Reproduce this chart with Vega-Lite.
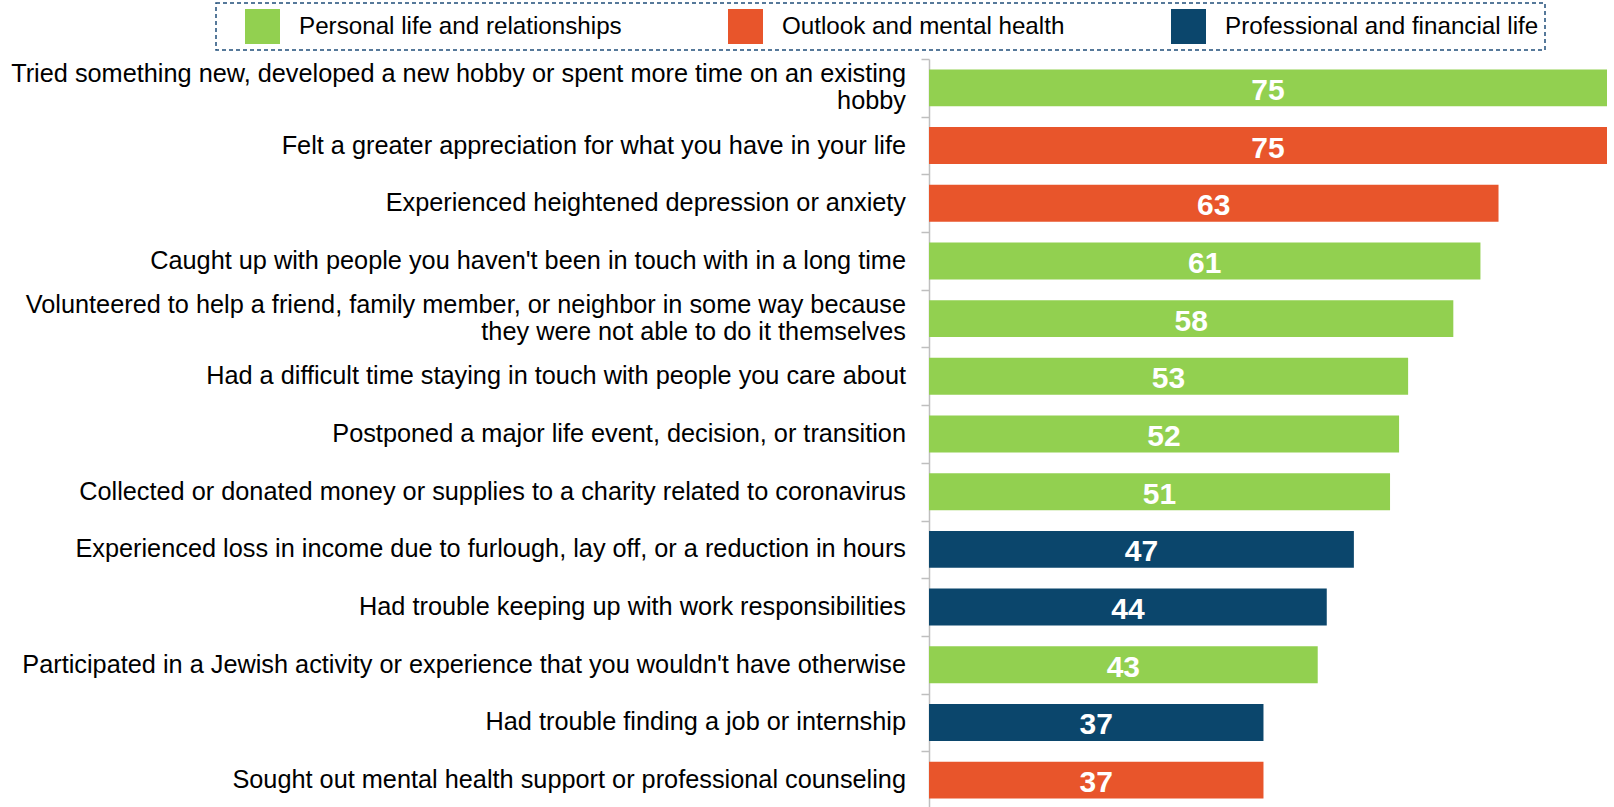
{
  "$schema": "https://vega.github.io/schema/vega-lite/v6.json",
  "width": 678,
  "height": 750,
  "autosize": {"type": "none"},
  "padding": {"left": 929, "top": 59, "right": 0, "bottom": 0},
  "background": "white",
  "config": {
    "view": {"stroke": null},
    "font": "Liberation Sans",
    "legend": {"strokeColor": "#1F4E79", "strokeDash": [4, 3], "strokeWidth": 1.5}
  },
  "data": {
    "values": [
      {"item": "Tried something new, developed a new hobby or spent more time on an existing|hobby", "value": 75, "category": "Personal life and relationships"},
      {"item": "Felt a greater appreciation for what you have in your life", "value": 75, "category": "Outlook and mental health"},
      {"item": "Experienced heightened depression or anxiety", "value": 63, "category": "Outlook and mental health"},
      {"item": "Caught up with people you haven't been in touch with in a long time", "value": 61, "category": "Personal life and relationships"},
      {"item": "Volunteered to help a friend, family member, or neighbor in some way because|they were not able to do it themselves", "value": 58, "category": "Personal life and relationships"},
      {"item": "Had a difficult time staying in touch with people you care about", "value": 53, "category": "Personal life and relationships"},
      {"item": "Postponed a major life event, decision, or transition", "value": 52, "category": "Personal life and relationships"},
      {"item": "Collected or donated money or supplies to a charity related to coronavirus", "value": 51, "category": "Personal life and relationships"},
      {"item": "Experienced loss in income due to furlough, lay off, or a reduction in hours", "value": 47, "category": "Professional and financial life"},
      {"item": "Had trouble keeping up with work responsibilities", "value": 44, "category": "Professional and financial life"},
      {"item": "Participated in a Jewish activity or experience that you wouldn't have otherwise", "value": 43, "category": "Personal life and relationships"},
      {"item": "Had trouble finding a job or internship", "value": 37, "category": "Professional and financial life"},
      {"item": "Sought out mental health support or professional counseling", "value": 37, "category": "Outlook and mental health"}
    ]
  },
  "encoding": {
    "y": {
      "field": "item",
      "type": "nominal",
      "sort": null,
      "scale": {"paddingInner": 0, "paddingOuter": 0},
      "axis": {
        "title": null,
        "labels": false,
        "tickBand": "extent",
        "tickSize": 8,
        "tickColor": "#BFBFBF",
        "tickWidth": 1.5,
        "domainColor": "#BFBFBF",
        "domainWidth": 1.5,
        "grid": false
      }
    }
  },
  "layer": [
    {
      "mark": {"type": "bar", "height": {"band": 0.64}},
      "encoding": {
        "x": {"field": "value", "type": "quantitative", "scale": {"domain": [0, 75]}, "axis": null},
        "color": {
          "field": "category",
          "type": "nominal",
          "scale": {
            "domain": ["Personal life and relationships", "Outlook and mental health", "Professional and financial life"],
            "range": ["#92D050", "#E8552B", "#0B466C"]
          },
          "legend": {
            "title": null,
            "orient": "none",
            "direction": "horizontal",
            "columns": 3,
            "legendX": -713,
            "legendY": -56,
            "symbolType": "square",
            "symbolSize": 1225,
            "symbolStrokeWidth": 0,
            "symbolOpacity": 1,
            "labelFontSize": 24.2,
            "labelColor": "#000000",
            "labelOffset": 19,
            "labelLimit": 600,
            "columnPadding": 83,
            "padding": 6,
            "symbolOffset": 23,
            "strokeColor": "#1F4E79"
          }
        }
      }
    },
    {
      "mark": {"type": "text", "color": "white", "fontWeight": "bold", "fontSize": 30, "baseline": "middle", "align": "center", "dy": 3},
      "encoding": {
        "x": {"field": "value", "type": "quantitative", "scale": {"domain": [0, 150]}, "axis": null},
        "text": {"field": "value", "type": "quantitative"}
      }
    },
    {
      "transform": [{"filter": "indexof(datum.item, '|') < 0"}],
      "mark": {"type": "text", "color": "#000000", "fontSize": 25.3, "baseline": "middle", "align": "right", "dx": -23},
      "encoding": {
        "x": {"datum": 0, "type": "quantitative", "scale": {"domain": [0, 150]}, "axis": null},
        "text": {"field": "item", "type": "nominal"}
      }
    },
    {
      "transform": [{"filter": "indexof(datum.item, '|') >= 0"}],
      "mark": {"type": "text", "color": "#000000", "fontSize": 25.3, "baseline": "middle", "align": "right", "dx": -23, "dy": -13.5, "lineBreak": "|", "lineHeight": 27},
      "encoding": {
        "x": {"datum": 0, "type": "quantitative", "scale": {"domain": [0, 150]}, "axis": null},
        "text": {"field": "item", "type": "nominal"}
      }
    }
  ],
  "resolve": {"scale": {"x": "independent"}}
}
